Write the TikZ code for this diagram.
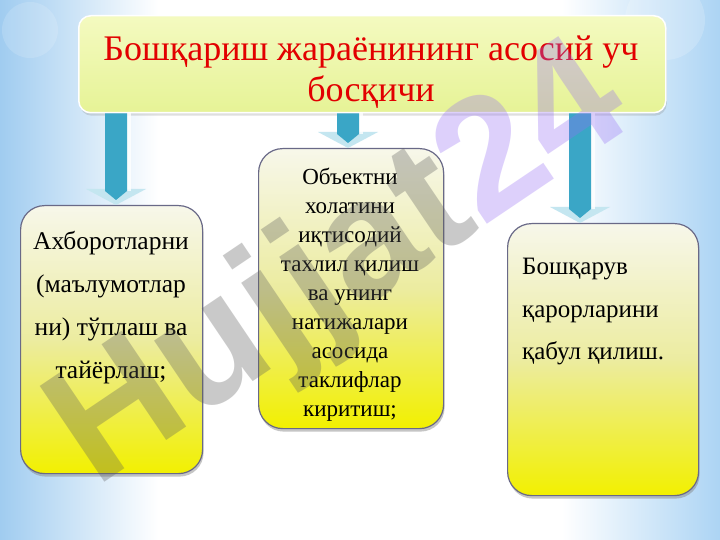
\documentclass[tikz,border=0pt]{standalone}
\usepackage{fontspec}
\setmainfont{Liberation Serif}
\newfontfamily\wmfont{Liberation Sans}
\usetikzlibrary{shadows,calc}
\definecolor{bgblue}{RGB}{160,204,240}
\definecolor{bgblueR}{RGB}{172,212,244}
\definecolor{titlered}{RGB}{226,0,0}
\definecolor{boxtop}{RGB}{247,247,234}
\definecolor{boxmid}{RGB}{236,236,160}
\definecolor{boxbot}{RGB}{242,240,0}
\definecolor{boxline}{RGB}{105,105,135}
\definecolor{arrbar}{RGB}{58,166,198}
\definecolor{arrhead}{RGB}{196,230,240}
\definecolor{ttop}{RGB}{244,250,192}
\definecolor{tbot}{RGB}{230,243,150}
\definecolor{wmgray}{RGB}{90,90,90}
\definecolor{wmpurple}{RGB}{150,110,245}
\pgfdeclarehorizontalshading{bgshade}{100bp}{color(0bp)=(bgblue); color(25bp)=(bgblue); color(36bp)=(white); color(64bp)=(white); color(75bp)=(bgblueR); color(100bp)=(bgblueR)}
\newcommand\blockarr[2]{%
  \fill[arrhead] ($(#2)+(-30,-16)$) -- ($(#2)+(30,-16)$) -- (#2) -- cycle;
  \fill[white,opacity=.8] ($(#1)+(11,0)$) rectangle ($(#2)+(15,-14)$);
  \fill[arrbar] ($(#1)+(-11,0)$) -- ($(#1)+(11,0)$) -- ($(#2)+(11,-14)$) -- ($(#2)+(0,-5)$) -- ($(#2)+(-11,-14)$) -- cycle;
}
\begin{document}
\begin{tikzpicture}[x=1pt,y=-1pt,
  titlebox/.style={anchor=north west, rounded corners=12pt, top color=ttop, bottom color=tbot,
    draw=white, line width=1.5pt, inner sep=0pt,
    drop shadow={shadow xshift=1pt, shadow yshift=-3pt, opacity=0.25}},
  stepbox/.style={anchor=north west, inner sep=0pt, draw=boxline, line width=1.2pt, rounded corners=24pt,
    top color=boxtop, bottom color=boxbot, middle color=boxmid,
    drop shadow={shadow xshift=1pt, shadow yshift=-3pt, opacity=0.45}},
  boxtext/.style={text=black, inner sep=0pt}]
\useasboundingbox (0,0) rectangle (720,540);
\fill[shading=bgshade] (0,0) rectangle (720,540);
\fill[white,opacity=.18] (665,20) circle (40);
\fill[white,opacity=.15] (30,30) circle (28);
% title
\node[titlebox, minimum width=587pt, minimum height=97pt] (title) at (78,15) {};
\node[text=titlered, align=center, font=\fontsize{36}{41}\selectfont, inner sep=0pt] (titletxt) at (371,72)
  {Бошқариш жараёнининг асосий уч\\босқичи};
% boxes
\node[stepbox, minimum width=182pt, minimum height=268pt] (boxA) at (20,205) {};
\node[stepbox, minimum width=185pt, minimum height=280pt] (boxB) at (258,148) {};
\node[stepbox, minimum width=191pt, minimum height=272pt] (boxC) at (507,223) {};
\node[boxtext, align=center, font=\fontsize{25.5}{43}\selectfont] (txtA) at (111,308)
  {Ахборотларни\\(маълумотлар\\ни) тўплаш ва\\тайёрлаш;};
\node[boxtext, align=center, font=\fontsize{23}{29}\selectfont] (txtB) at (350,295)
  {Объектни\\холатини\\иқтисодий\\тахлил қилиш\\ва унинг\\натижалари\\асосида\\таклифлар\\киритиш;};
\node[boxtext, align=left, anchor=west, font=\fontsize{25}{42.5}\selectfont] (txtC) at (522,312)
  {Бошқарув\\қарорларини\\қабул қилиш.};
% arrows
\coordinate (a1s) at (116,0 |- title.south);
\coordinate (a1e) at (a1s |- boxA.north);
\coordinate (a2s) at (348,0 |- title.south);
\coordinate (a2e) at (a2s |- boxB.north);
\coordinate (a3s) at (580,0 |- title.south);
\coordinate (a3e) at (a3s |- boxC.north);
\blockarr{a1s}{a1e}
\blockarr{a2s}{a2e}
\blockarr{a3s}{a3e}
% watermark
\node[rotate=34, font=\wmfont\bfseries\fontsize{168}{168}\selectfont, text=wmgray, opacity=0.32, inner sep=0pt] (wm) at (342,270)
  {Hujjat\textcolor{wmpurple}{24}};
\end{tikzpicture}
\end{document}
